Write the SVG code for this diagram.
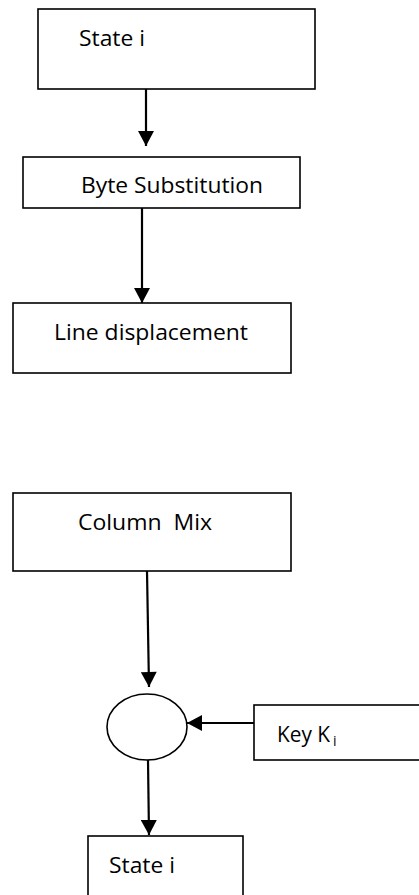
<svg xmlns="http://www.w3.org/2000/svg" width="419" height="895" viewBox="0 0 419 895">
  <style>
    .box { fill: #ffffff; stroke: #000000; stroke-width: 1.6; }
    .lbl { font-family: "Open Sans", "Noto Sans", sans-serif; font-size: 22px; fill: #000000; }
    .sub { font-family: "Open Sans", "Noto Sans", sans-serif; font-size: 14px; fill: #000000; }
    .wire { stroke: #000000; stroke-width: 2.2; fill: none; marker-end: url(#head); }
  </style>
  <defs>
    <marker id="head" markerUnits="userSpaceOnUse" markerWidth="16" markerHeight="16" viewBox="0 0 15 16" refX="15" refY="8" orient="auto">
      <path d="M0,0 L15,8 L0,16 Z" fill="#000000"/>
    </marker>
  </defs>
  <rect width="419" height="895" fill="#ffffff"/>

  <g id="connectors">
    <line class="wire" x1="146" y1="89" x2="146" y2="146"/>
    <line class="wire" x1="142" y1="197" x2="142" y2="303"/>
    <line class="wire" x1="147" y1="571" x2="149" y2="687"/>
    <line class="wire" x1="254" y1="723" x2="187" y2="723"/>
    <line class="wire" x1="148" y1="760" x2="149" y2="835"/>
  </g>

  <g id="state-in">
    <rect class="box" x="38" y="9" width="277" height="80"/>
    <text class="lbl" x="79" y="46" textLength="66" lengthAdjust="spacingAndGlyphs">State i</text>
  </g>

  <g id="byte-substitution">
    <rect class="box" x="23" y="157" width="277" height="51"/>
    <text class="lbl" x="81" y="193" textLength="182" lengthAdjust="spacingAndGlyphs">Byte Substitution</text>
  </g>

  <g id="line-displacement">
    <rect class="box" x="13" y="303" width="278" height="70"/>
    <text class="lbl" x="54" y="340" textLength="194" lengthAdjust="spacingAndGlyphs">Line displacement</text>
  </g>

  <g id="column-mix">
    <rect class="box" x="13" y="493" width="278" height="78"/>
    <text class="lbl" x="78" y="530" textLength="134" lengthAdjust="spacingAndGlyphs" xml:space="preserve">Column  Mix</text>
  </g>

  <g id="xor">
    <ellipse class="box" cx="147" cy="727" rx="40" ry="33"/>
  </g>

  <g id="key">
    <rect class="box" x="254" y="705" width="175" height="55"/>
    <text class="lbl" x="277" y="742" textLength="53" lengthAdjust="spacingAndGlyphs">Key K</text>
    <text class="sub" x="333" y="746">i</text>
  </g>

  <g id="state-out">
    <rect class="box" x="88" y="836" width="155" height="70"/>
    <text class="lbl" x="109" y="873" textLength="66" lengthAdjust="spacingAndGlyphs">State i</text>
  </g>
</svg>
